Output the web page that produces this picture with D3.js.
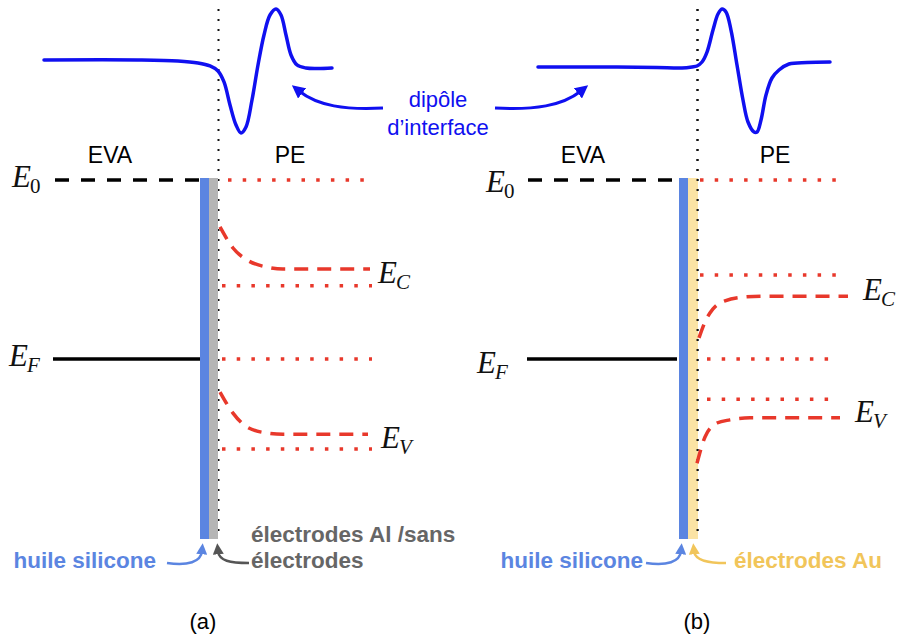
<!DOCTYPE html>
<html>
<head>
<meta charset="utf-8">
<script src="https://cdn.jsdelivr.net/npm/d3@7"></script>
<style>
  body { margin: 0; background: #fff; }
  svg { display: block; }
</style>
</head>
<body>
<div id="chart-area"></div>
<script>
// band diagrams EVA / PE, (a) Al or no electrode, (b) Au electrode

// energies in eV, vacuum level = 0
var panelNames = ["(a)", "(b)"];
var vacuumLevel = [0, 0];
var fermiLevel = [-4.5, -4.5];
var ecFlat = [-2.66, -2.39];   // dotted reference lines
var evFlat = [-6.76, -5.51];

// bent bands in PE: [distance from interface, energy]
var ecBentA = [[2, -1.18], [15, -1.71], [29, -2.01], [49, -2.19], [65, -2.24], [152, -2.24]];
var evBentA = [[2, -5.33], [15, -5.86], [29, -6.21], [49, -6.36], [65, -6.39], [150, -6.39]];
var ecBentB = [[2, -3.97], [8, -3.57], [16, -3.24], [28, -3.04], [48, -2.94], [68, -2.92], [151, -2.92]];
var evBentB = [[0, -7.12], [8, -6.46], [20, -6.11], [33, -6.03], [53, -5.98], [143, -5.98]];

// interface dipole potential: [distance from interface, potential (a.u.)]
var dipoleA = [[-174, 0.177], [-80, 0.177], [-40, 0.161], [-20, 0.129], [-8, 0.081], [0, 0],
  [6, -0.177], [12, -0.548], [18, -0.871], [23, -1], [28, -0.903], [34, -0.468], [40, 0.097],
  [46, 0.581], [52, 0.903], [58, 1], [63, 0.903], [68, 0.581], [73, 0.258], [79, 0.097],
  [88, 0.048], [100, 0.04], [114, 0.048]];
var dipoleB = [[-159, 0.065], [-80, 0.065], [-40, 0.056], [-15, 0.048], [-5, 0.065], [0, 0.081],
  [5, 0.145], [10, 0.306], [16, 0.661], [21, 0.919], [25, 1], [29, 0.952], [34, 0.661],
  [40, 0.097], [46, -0.468], [51, -0.823], [57, -0.984], [60, -0.984], [64, -0.79], [69, -0.387],
  [75, -0.113], [82, 0.016], [92, 0.113], [110, 0.137], [133, 0.145]];

// extents of the level lines (distance from interface)
var metalSpan = [[-163, -18], [-169, -25]];
var fermiSpan = [[-165, -18], [-170, -20]];
var vacRefSpan = [[10, 147], [3, 150]];
var ecRefSpan = [[4, 154], [3, 150]];
var efRefSpan = [[4, 154], [10, 141]];
var evRefSpan = [[4, 154], [10, 141]];

var electrodeLabel = [["électrodes Al /sans", "électrodes"], ["électrodes Au"]];
var electrodeColor = ["#b5b5b5", "#fbe3a4"];
var electrodeText = ["#666666", "#f1c55a"];

var width = 899, height = 641;
var interfaceX = [218, 697];
var evaX = [-108, -114], peX = [72, 78], letterX = [-15, 0], oilTextX = [-62, -54];
var blue = "#1010f0", oil = "#5b85e1", red = "#e8382b";

var svg = d3.select("#chart-area").append("svg")
  .attr("width", width)
  .attr("height", height);

var y = d3.scaleLinear().domain([0, -4.5]).range([180, 359]);
var yDip = d3.scaleLinear().domain([-1, 1]).range([133, 9]);

function marker(id, color, size) {
  svg.append("defs").append("marker")
    .attr("id", id)
    .attr("viewBox", "0 0 10 10")
    .attr("refX", 3).attr("refY", 5)
    .attr("markerWidth", size).attr("markerHeight", size)
    .attr("markerUnits", "userSpaceOnUse")
    .attr("orient", "auto")
    .append("path").attr("d", "M0,0 L10,5 L0,10 z").attr("fill", color);
}
marker("arBlue", blue, 13);
marker("arOil", oil, 11);
marker("arGray", "#555555", 11);
marker("arGold", "#f1c55a", 11);

function mathLabel(g, x, yb, sub, subItalic) {
  var t = g.append("text").attr("x", x).attr("y", yb)
    .style("font-family", "'Liberation Serif', 'DejaVu Serif', serif")
    .style("font-size", "31px").attr("fill", "#111");
  t.append("tspan").style("font-style", "italic").text("E");
  t.append("tspan").attr("dy", 6).attr("dx", -1).style("font-size", "21px")
    .style("font-style", subItalic ? "italic" : "normal").text(sub);
}

var bentC = [ecBentA, ecBentB], bentV = [evBentA, evBentB], dipoles = [dipoleA, dipoleB];
var labelPos = {
  e0: [[12, 187], [486, 192]],
  ef: [[9, 366], [477, 373]],
  ec: [[378, 283], [863, 300]],
  ev: [[381, 448], [855, 422]]
};

panelNames.forEach(function(name, i) {
  var x = d3.scaleLinear().domain([-200, 200]).range([interfaceX[i] - 200, interfaceX[i] + 200]);
  var g = svg.append("g");

  // interface (dotted)
  g.append("line")
    .attr("x1", x(0.5)).attr("x2", x(0.5))
    .attr("y1", 9).attr("y2", 538)
    .attr("stroke", "#111").attr("stroke-width", 2)
    .attr("stroke-dasharray", "2,8");

  // silicone oil + electrode layers
  g.append("rect").attr("x", x(-18)).attr("width", 9)
    .attr("y", y(vacuumLevel[i]) - 2).attr("height", 539 - y(vacuumLevel[i]) + 2)
    .attr("fill", oil);
  g.append("rect").attr("x", x(-9)).attr("width", i == 0 ? 9 : 10)
    .attr("y", y(vacuumLevel[i]) - 2).attr("height", 539 - y(vacuumLevel[i]) + 2)
    .attr("fill", electrodeColor[i]);
  if (i == 1) {
    g.append("line")
      .attr("x1", x(0.5)).attr("x2", x(0.5))
      .attr("y1", 9).attr("y2", 538)
      .attr("stroke", "#111").attr("stroke-width", 2)
      .attr("stroke-dasharray", "2,8");
  }

  // EVA levels
  g.append("line")
    .attr("x1", x(metalSpan[i][0])).attr("x2", x(metalSpan[i][1]))
    .attr("y1", y(vacuumLevel[i])).attr("y2", y(vacuumLevel[i]))
    .attr("stroke", "#000").attr("stroke-width", 3.5)
    .attr("stroke-dasharray", "14,12");
  g.append("line")
    .attr("x1", x(fermiSpan[i][0])).attr("x2", x(fermiSpan[i][1]))
    .attr("y1", y(fermiLevel[i])).attr("y2", y(fermiLevel[i]))
    .attr("stroke", "#000").attr("stroke-width", 3.5);

  // PE reference levels (dotted)
  var refs = [[vacuumLevel[i], vacRefSpan[i]], [ecFlat[i], ecRefSpan[i]],
              [fermiLevel[i], efRefSpan[i]], [evFlat[i], evRefSpan[i]]];
  refs.forEach(function(r) {
    g.append("line")
      .attr("x1", x(r[1][0])).attr("x2", x(r[1][1]))
      .attr("y1", y(r[0])).attr("y2", y(r[0]))
      .attr("stroke", red).attr("stroke-width", 3.5)
      .attr("stroke-dasharray", "3.5,11.2");
  });

  // bent bands (dashed)
  var band = d3.line()
    .x(function(d) { return x(d[0]); })
    .y(function(d) { return y(d[1]); })
    .curve(d3.curveMonotoneX);
  [bentC[i], bentV[i]].forEach(function(b) {
    g.append("path").attr("d", band(b))
      .attr("fill", "none").attr("stroke", red).attr("stroke-width", 3.5)
      .attr("stroke-dasharray", "14,9");
  });

  // dipole
  var dip = d3.line()
    .x(function(d) { return x(d[0]); })
    .y(function(d) { return yDip(d[1]); })
    .curve(d3.curveCatmullRom.alpha(0.5));
  g.append("path").attr("d", dip(dipoles[i]))
    .attr("fill", "none").attr("stroke", blue).attr("stroke-width", 3.5)
    .attr("stroke-linecap", "round");

  // math labels
  mathLabel(g, labelPos.e0[i][0], labelPos.e0[i][1], "0", false);
  mathLabel(g, labelPos.ef[i][0], labelPos.ef[i][1], "F", true);
  mathLabel(g, labelPos.ec[i][0], labelPos.ec[i][1], "C", true);
  mathLabel(g, labelPos.ev[i][0], labelPos.ev[i][1], "V", true);

  // material names
  g.append("text").attr("x", x(evaX[i])).attr("y", 163)
    .attr("text-anchor", "middle")
    .style("font-family", "'Liberation Sans', Arial, sans-serif").style("font-size", "23px")
    .text("EVA");
  g.append("text").attr("x", x(peX[i])).attr("y", 163)
    .attr("text-anchor", "middle")
    .style("font-family", "'Liberation Sans', Arial, sans-serif").style("font-size", "23px")
    .text("PE");

  // panel letter
  g.append("text").attr("x", x(letterX[i])).attr("y", 629)
    .attr("text-anchor", "middle")
    .style("font-family", "'Liberation Sans', Arial, sans-serif").style("font-size", "22px")
    .text(name);

  // bottom annotations
  var lab = g.append("g")
    .style("font-family", "'Liberation Sans', Arial, sans-serif")
    .style("font-size", "22.5px").style("font-weight", "bold");
  lab.append("text").attr("x", x(oilTextX[i])).attr("y", 568)
    .attr("text-anchor", "end").attr("fill", oil).text("huile silicone");
  lab.append("path")
    .attr("d", "M" + x(-51) + ",563 C" + x(-30) + ",566 " + x(-17) + ",562 " + x(-16) + ",551")
    .attr("fill", "none").attr("stroke", oil).attr("stroke-width", 2.5)
    .attr("marker-end", "url(#arOil)");
  lab.append("path")
    .attr("d", "M" + x(31 - 2 * i) + ",563 C" + x(12) + ",563 " + x(1 - 3 * i) + ",561 " + x(0 - 3 * i) + ",551")
    .attr("fill", "none").attr("stroke", i == 0 ? "#555555" : "#f1c55a").attr("stroke-width", 2.5)
    .attr("marker-end", i == 0 ? "url(#arGray)" : "url(#arGold)");
  electrodeLabel[i].forEach(function(s, k) {
    var rows = electrodeLabel[i].length;
    lab.append("text").attr("x", x(33 + 4 * i)).attr("y", 568 - (rows - 1 - k) * 26)
      .attr("fill", electrodeText[i]).text(s);
  });
});

// dipole caption and arrows
var cap = svg.append("text")
  .attr("text-anchor", "middle")
  .style("font-family", "'Liberation Sans', Arial, sans-serif")
  .style("font-size", "22px").attr("fill", blue);
cap.append("tspan").attr("x", 438).attr("y", 107).text("dipôle");
cap.append("tspan").attr("x", 438).attr("y", 135).text("d’interface");

svg.append("path").attr("d", "M383,108 C345,110 318,106 299,91")
  .attr("fill", "none").attr("stroke", blue).attr("stroke-width", 3)
  .attr("marker-end", "url(#arBlue)");
svg.append("path").attr("d", "M495,108 C535,110 562,106 581,91")
  .attr("fill", "none").attr("stroke", blue).attr("stroke-width", 3)
  .attr("marker-end", "url(#arBlue)");
</script>
</body>
</html>
